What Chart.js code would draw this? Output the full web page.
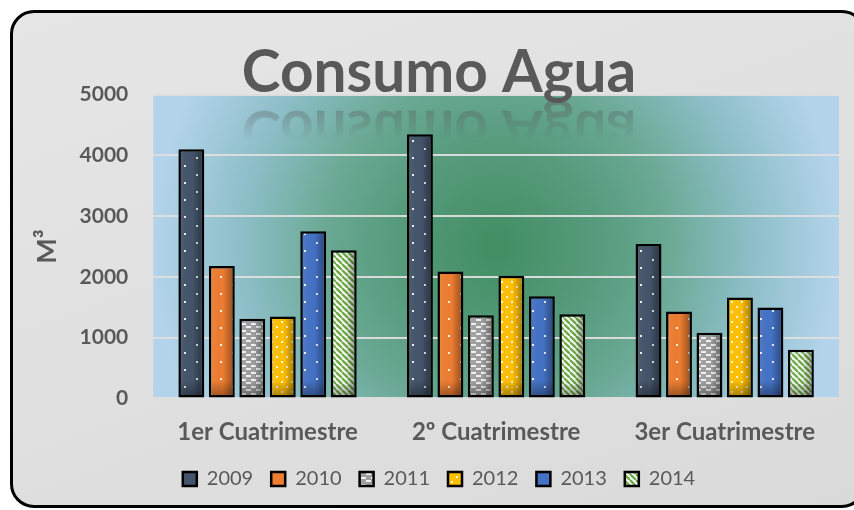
<!DOCTYPE html>
<html lang="es">
<head>
<meta charset="utf-8">
<title>Consumo Agua</title>
<script src="https://cdn.jsdelivr.net/npm/chart.js@4"></script>
<style>
    html, body { margin: 0; padding: 0; background: #fff; }
    .marco {
        position: absolute;
        left: 10px; top: 10px;
        width: 850px; height: 492px;
        border: 3px solid #000;
        border-radius: 24px;
        background: linear-gradient(160deg, #e6e6e6, #dadada);
    }
    #consumoChart { position: absolute; left: 0; top: 0; }
</style>
</head>
<body>
<div class="marco"></div>
<canvas id="consumoChart" width="854" height="510"></canvas>
<script>
// Datos (m3 por cuatrimestre)
const categorias = ['1er Cuatrimestre', '2º Cuatrimestre', '3er Cuatrimestre'];
const anios = ['2009', '2010', '2011', '2012', '2013', '2014'];
const consumo2009 = [4100, 4350, 2540];
const consumo2010 = [2180, 2090, 1430];
const consumo2011 = [1310, 1370, 1080];
const consumo2012 = [1350, 2020, 1660];
const consumo2013 = [2750, 1680, 1495];
const consumo2014 = [2440, 1385, 800];
const yTicks = [0, 1000, 2000, 3000, 4000, 5000];

const textColor = '#595959';

// Tramas de relleno de las barras
function makePattern(w, h, paint) {
    const c = document.createElement('canvas');
    c.width = w;
    c.height = h;
    paint(c.getContext('2d'));
    return c.getContext('2d').createPattern(c, 'repeat');
}

function sparseDots(base) {
    return makePattern(24, 17, g => {
        g.fillStyle = base;
        g.fillRect(0, 0, 24, 17);
        g.fillStyle = 'rgba(255,255,255,0.9)';
        g.fillRect(4, 4, 2, 2);
        g.fillRect(16, 12, 2, 2);
    });
}

const pat2009 = sparseDots('#44546a');
const pat2010 = sparseDots('#ed7d31');
const pat2013 = sparseDots('#4472c4');
const pat2011 = makePattern(10, 7, g => {
    g.fillStyle = '#a0a0a0';
    g.fillRect(0, 0, 10, 7);
    g.fillStyle = '#f2f2f2';
    g.fillRect(1, 1, 5, 2);
    g.fillRect(6, 4, 5, 2);
    g.fillRect(0, 4, 1, 2);
});
const pat2012 = makePattern(10, 10, g => {
    g.fillStyle = '#ffc000';
    g.fillRect(0, 0, 10, 10);
    g.fillStyle = 'rgba(255,255,255,0.85)';
    g.fillRect(1, 1, 2, 2);
    g.fillRect(6, 6, 2, 2);
});
const pat2014 = makePattern(6, 6, g => {
    g.fillStyle = '#ffffff';
    g.fillRect(0, 0, 6, 6);
    g.strokeStyle = '#70ad47';
    g.lineWidth = 2.4;
    for (let k = -6; k <= 6; k += 6) {
        g.beginPath();
        g.moveTo(k, 0);
        g.lineTo(k + 6, 6);
        g.stroke();
    }
});

// Fondo del area de trazado (degradado radial verde -> azul claro)
const plotBackground = {
    id: 'plotBackground',
    beforeDraw(chart) {
        const { ctx, chartArea: a } = chart;
        const cx = (a.left + a.right) / 2;
        const cy = (a.top + a.bottom) / 2;
        const r = (a.right - a.left) / 2;
        const grad = ctx.createRadialGradient(cx, cy, 0, cx, cy, r);
        grad.addColorStop(0, '#418e62');
        grad.addColorStop(0.3, '#579b7d');
        grad.addColorStop(0.5, '#6aa994');
        grad.addColorStop(0.75, '#8ebfc9');
        grad.addColorStop(1, '#b3d3ea');
        ctx.save();
        ctx.fillStyle = grad;
        ctx.fillRect(a.left, a.top, a.right - a.left, a.bottom - a.top);
        ctx.restore();
    }
};

// Reflejo del titulo
const titleReflection = {
    id: 'titleReflection',
    beforeDatasetsDraw(chart) {
        const { ctx, chartArea: a } = chart;
        const t = chart.options.plugins.title;
        const f = t.font;
        const cx = (chart.titleBlock.left + chart.titleBlock.right) / 2;
        const h = 40;
        const off = document.createElement('canvas');
        off.width = chart.width;
        off.height = h;
        const g = off.getContext('2d');
        g.font = f.weight + ' ' + f.size + 'px ' + f.family;
        g.textAlign = 'center';
        g.textBaseline = 'alphabetic';
        g.fillStyle = t.color;
        g.save();
        g.translate(0, 12);
        g.scale(1, -1);
        g.fillText(t.text, cx, 0);
        g.restore();
        g.globalCompositeOperation = 'destination-in';
        const m = g.createLinearGradient(0, 0, 0, h);
        m.addColorStop(0, 'rgba(0,0,0,0.5)');
        m.addColorStop(1, 'rgba(0,0,0,0)');
        g.fillStyle = m;
        g.fillRect(0, 0, off.width, h);
        ctx.drawImage(off, 0, a.top + 4);
    }
};

// Sombreado de las barras (bordes oscurecidos)
const barShading = {
    id: 'barShading',
    afterDatasetsDraw(chart) {
        const ctx = chart.ctx;
        chart.data.datasets.forEach((ds, i) => {
            chart.getDatasetMeta(i).data.forEach(bar => {
                const p = bar.getProps(['x', 'y', 'base', 'width'], true);
                const bw = ds.borderWidth;
                const l = p.x - p.width / 2 + bw, r = p.x + p.width / 2 - bw;
                const t = p.y + bw, b = p.base - bw;
                if (b <= t) return;
                ctx.save();
                const gh = ctx.createLinearGradient(l, 0, r, 0);
                gh.addColorStop(0, 'rgba(255,255,255,0.06)');
                gh.addColorStop(0.55, 'rgba(0,0,0,0)');
                gh.addColorStop(1, 'rgba(0,0,0,0.32)');
                ctx.fillStyle = gh;
                ctx.fillRect(l, t, r - l, b - t);
                const gv = ctx.createLinearGradient(0, b - 14, 0, b);
                gv.addColorStop(0, 'rgba(0,0,0,0)');
                gv.addColorStop(1, 'rgba(0,0,0,0.3)');
                ctx.fillStyle = gv;
                ctx.fillRect(l, Math.max(t, b - 14), r - l, Math.min(14, b - t));
                ctx.restore();
            });
        });
    }
};

function serie(label, data, fill) {
    return {
        label: label,
        data: data,
        backgroundColor: fill,
        borderColor: '#000000',
        borderWidth: 2.5,
        borderSkipped: false,
        categoryPercentage: 0.8,
        barPercentage: 0.85
    };
}

const consumoCtx = document.getElementById('consumoChart').getContext('2d');
const consumoChart = new Chart(consumoCtx, {
    type: 'bar',
    data: {
        labels: categorias,
        datasets: [
            serie(anios[0], consumo2009, pat2009),
            serie(anios[1], consumo2010, pat2010),
            serie(anios[2], consumo2011, pat2011),
            serie(anios[3], consumo2012, pat2012),
            serie(anios[4], consumo2013, pat2013),
            serie(anios[5], consumo2014, pat2014)
        ]
    },
    options: {
        responsive: false,
        animation: false,
        layout: {
            padding: { left: 39, right: 15, top: 10, bottom: 11 }
        },
        plugins: {
            title: {
                display: true,
                text: 'Consumo Agua',
                color: textColor,
                font: { family: 'Lato', size: 58.5, weight: 'bold', lineHeight: 0.75 },
                padding: { top: 40.8, bottom: 0 }
            },
            legend: {
                position: 'bottom',
                labels: {
                    boxWidth: 14,
                    boxHeight: 14,
                    padding: 18,
                    color: textColor,
                    font: { family: 'Lato', size: 20 }
                }
            },
            tooltip: { enabled: false }
        },
        scales: {
            y: {
                min: 0,
                max: 5000,
                afterBuildTicks: scale => {
                    scale.ticks = yTicks.map(v => ({ value: v }));
                },
                afterFit: scale => { scale.width = 114.25; },
                ticks: {
                    color: textColor,
                    padding: 25,
                    font: { family: 'Lato', size: 21, weight: 'bold' },
                    callback: value => String(value)
                },
                grid: {
                    color: 'rgba(222,222,222,0.95)',
                    lineWidth: 2,
                    drawTicks: false
                },
                border: { display: false },
                title: {
                    display: true,
                    text: 'M³',
                    color: textColor,
                    padding: 0,
                    font: { family: 'Lato', size: 27, weight: 'bold', lineHeight: 0.6 }
                }
            },
            x: {
                afterFit: scale => { scale.height = 52.6; },
                ticks: {
                    color: textColor,
                    padding: 19,
                    font: { family: 'Lato', size: 24, weight: 'bold' }
                },
                grid: { display: false, drawTicks: false },
                border: { display: false }
            }
        }
    },
    plugins: [plotBackground, titleReflection, barShading]
});
</script>
</body>
</html>
